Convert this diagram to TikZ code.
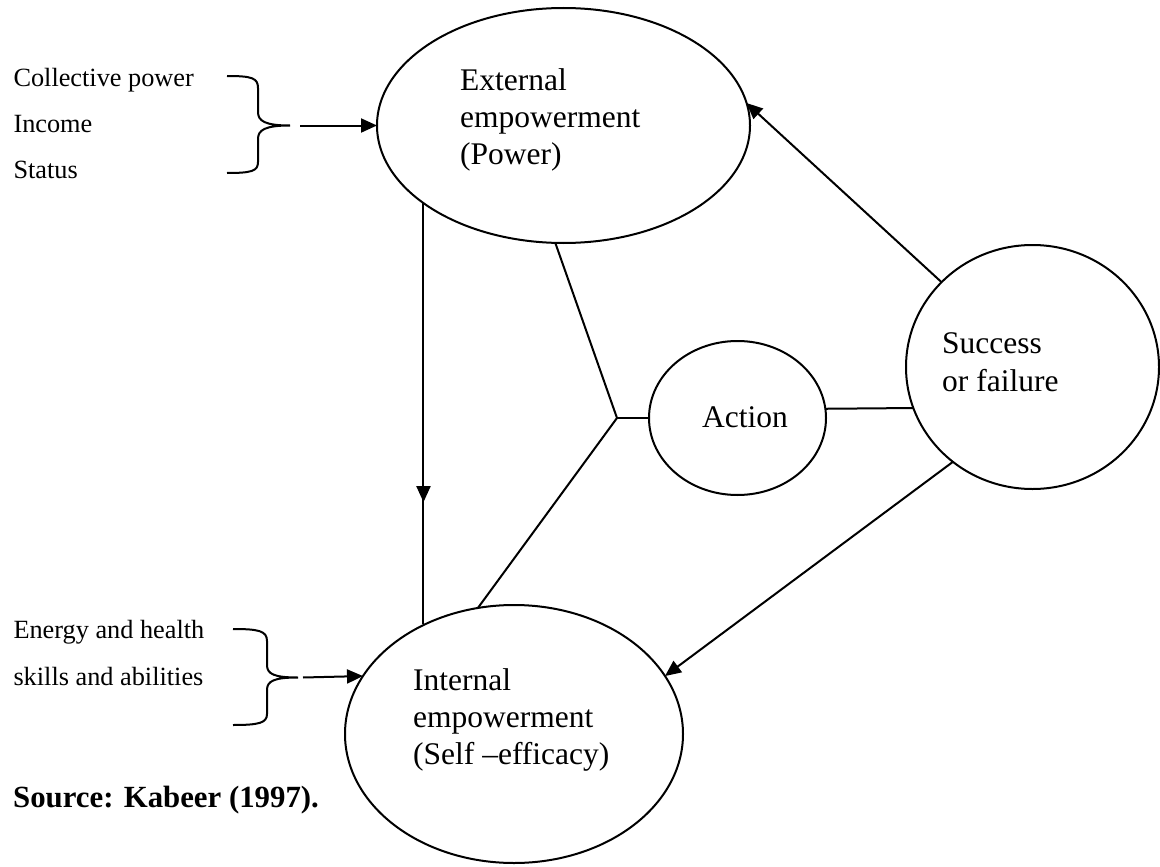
\documentclass[tikz,border=0pt]{standalone}
\usepackage{fontspec}
\setmainfont{Liberation Serif}
\usetikzlibrary{shapes.geometric,arrows.meta,decorations.markings}
\begin{document}
\begin{tikzpicture}[x=1pt,y=-1pt,
  ell/.style={ellipse,draw,line width=2pt,inner sep=0pt,outer sep=0pt},
  conn/.style={line width=2pt},
  tipstyle/.style={-{Triangle[length=16pt,width=14pt]}},
  arr/.style={conn,tipstyle},
  bracestyle/.style={line width=2pt},
  lbl/.style={anchor=base west,inner sep=0pt,font=\fontsize{31.5}{37}\selectfont},
  side/.style={anchor=base west,inner sep=0pt,font=\fontsize{26.3}{30}\selectfont}]
\useasboundingbox (0,0) rectangle (1160,867);

% ellipses
\node[ell,minimum width=373pt,minimum height=235pt] (ext) at (563.5,125.5) {};
\node[ell,minimum width=338pt,minimum height=258pt] (int) at (514,734) {};
\node[ell,minimum width=177pt,minimum height=154pt] (act) at (737.5,418) {};
\node[ell,minimum width=253pt,minimum height=244pt] (suc) at (1032.5,367) {};

% texts in ellipses
\node[lbl] (extT) at (460,90.5) {\begin{tabular}[t]{@{}l@{}}External\\empowerment\\(Power)\end{tabular}};
\node[lbl] (intT) at (413,690.5) {\begin{tabular}[t]{@{}l@{}}Internal\\empowerment\\(Self –efficacy)\end{tabular}};
\node[lbl] (actT) at (702,427) {Action};
\node[lbl,font=\fontsize{31.5}{38}\selectfont] (sucT) at (942,353.5) {\begin{tabular}[t]{@{}l@{}}Success\\or failure\end{tabular}};

% side texts
\node[side] (t1) at (13.3,86.7) {Collective power};
\node[side] (t2) at (13.3,132.7) {Income};
\node[side] (t3) at (13.3,178.3) {Status};
\node[side] (t4) at (13.3,638) {Energy and health};
\node[side] (t5) at (13.3,685) {skills and abilities};

\node[anchor=base west,inner sep=0pt,font=\fontsize{30.8}{37}\selectfont\bfseries] (src) at (13,807) {Source: Kabeer (1997).};

% braces
\draw[bracestyle] (227,76) .. controls (252,76) and (258,78) .. (258,88) -- (258,112)
  .. controls (258,121) and (265,125.5) .. (290,125.5)
  .. controls (265,125.5) and (258,130) .. (258,139) -- (258,162)
  .. controls (258,171) and (252,173) .. (227,173);
\draw[bracestyle] (233,629) .. controls (259,629) and (267,631) .. (267,641) -- (267,665)
  .. controls (267,674) and (274,677.5) .. (298,677.5)
  .. controls (274,677.5) and (267,681) .. (267,690) -- (267,714)
  .. controls (267,723) and (259,725) .. (233,725);

\coordinate (b1) at (300,125.5);
\coordinate (b2) at (303,677.5);
\draw[arr] (b1) -- (ext.west);
\draw[arr] (b2) -- (int.159);

% vertical arrow
\coordinate (v1) at (ext.209.4);
\draw[conn,postaction={decorate},decoration={markings,mark=at position 0.71 with {\arrow{Triangle[length=16pt,width=14pt]}}}]
  (v1) -- (v1 |- int.129);

% junction
\coordinate (J) at (617,418);
\draw[conn] (ext.266) -- (J) -- (int.106);
\draw[conn] (J) -- (act.west);
\draw[conn] (act.6.5) -- (suc.199);

% arrows from success
\draw[arr] (suc.137) -- (ext.7);
\draw[arr] (suc.230.2) -- (int.21);
\end{tikzpicture}
\end{document}
